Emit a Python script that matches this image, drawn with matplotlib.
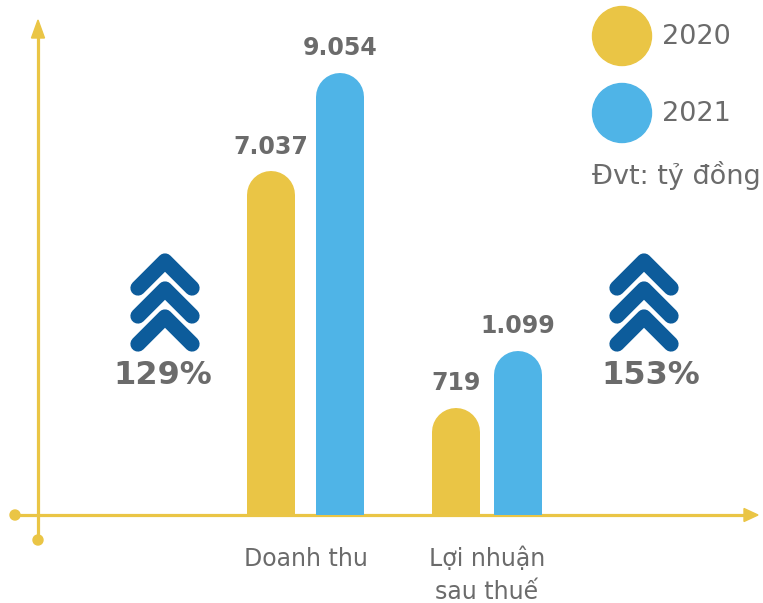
import matplotlib
matplotlib.use("Agg")
import matplotlib.pyplot as plt
from matplotlib.patches import Circle, Polygon

# data (ty dong)
categories = ["Doanh thu", "Lợi nhuận\nsau thuế"]
years = ["2020", "2021"]
val_2020 = [7037, 719]
val_2021 = [9054, 1099]
unit_note = "Đvt: tỷ đồng"

YELLOW = "#EAC545"
BLUE = "#4FB4E7"
DARK_BLUE = "#0D5C9B"
GRAY = "#6B6B6B"

W, H = 763, 603
fig = plt.figure(figsize=(W / 100, H / 100), dpi=100)

# decoration layer in pixel coordinates
deco = fig.add_axes([0, 0, 1, 1])
deco.set_xlim(0, W)
deco.set_ylim(H, 0)
deco.axis("off")

base_y = 515
# axes lines with arrows and dots
deco.plot([38, 38], [540, 36], color=YELLOW, lw=2.3, solid_capstyle="butt")
deco.plot([15, 746], [base_y, base_y], color=YELLOW, lw=2.3, solid_capstyle="butt")
deco.add_patch(Polygon([[38, 20], [31.5, 38], [44.5, 38]], closed=True, color=YELLOW))
deco.add_patch(Polygon([[758, base_y], [744, base_y - 6.5], [744, base_y + 6.5]], closed=True, color=YELLOW))
deco.add_patch(Circle((15, base_y), 5, color=YELLOW))
deco.add_patch(Circle((38, 540), 5, color=YELLOW))

# legend
for i, (yr, col) in enumerate(zip(years, [YELLOW, BLUE])):
    cy = 36 + i * 77
    deco.add_patch(Circle((622, cy), 29.5, color=col))
    deco.text(662, cy + 1, yr, fontsize=19.5, color=GRAY, va="center", ha="left")
deco.text(592, 176, unit_note, fontsize=19.5, color=GRAY, va="center", ha="left")


def chevrons(cx):
    for j in range(3):
        ay = 261 + j * 28
        deco.plot([cx - 27, cx, cx + 27], [ay + 27, ay, ay + 27], color=DARK_BLUE,
                  lw=11, solid_capstyle="round", solid_joinstyle="round")


chevrons(165)
chevrons(644)

# bar layer (data coordinates)
ax_rev = fig.add_axes([0, (H - base_y) / H, 1, base_y / H])
ax_prof = ax_rev.twinx()
for a in (ax_rev, ax_prof):
    a.patch.set_visible(False)
    for s in a.spines.values():
        s.set_visible(False)
    a.set_yticks([])
ax_rev.set_xlim(-1.683, 2.521)
ax_rev.set_ylim(0, 10548)
ax_prof.set_ylim(0, 3450)

ax_rev.set_xticks([0, 1], categories)
ax_rev.tick_params(axis="x", length=0, pad=23, labelsize=17, labelcolor=GRAY)
for lbl in ax_rev.get_xticklabels():
    lbl.set_linespacing(1.45)

offsets = [0.19, 0.171]
bar_px = 48
lw_pt = bar_px * 72 / 100


def rounded_bar(ax, x, v, color):
    y0, y1 = ax.get_ylim()
    r = (bar_px / 2) * (y1 - y0) / ax.bbox.height
    ax.plot([x, x], [-2 * r, v - r], color=color, lw=lw_pt, solid_capstyle="round")
    ax.annotate(f"{v:,}".replace(",", "."), (x, v), xytext=(0, 9), textcoords="offset points",
                ha="center", va="bottom", fontsize=17, fontweight="bold", color=GRAY)


for i, ax in enumerate([ax_rev, ax_prof]):
    rounded_bar(ax, i - offsets[i], val_2020[i], YELLOW)
    rounded_bar(ax, i + offsets[i], val_2021[i], BLUE)

# growth labels
for cx, v0, v1 in [(163, val_2020[0], val_2021[0]), (651, val_2020[1], val_2021[1])]:
    deco.text(cx, 376, f"{round(v1 / v0 * 100)}%", fontsize=23, fontweight="bold",
              color=GRAY, ha="center", va="center")

fig.savefig("out.png", dpi=100)
